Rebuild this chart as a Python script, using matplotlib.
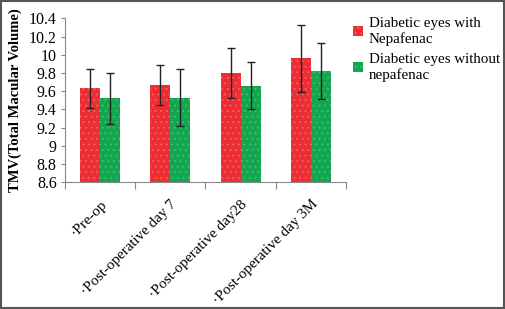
import matplotlib
matplotlib.use("Agg")
import matplotlib.pyplot as plt
import matplotlib.transforms as mtransforms
import numpy as np

# data
categories = ["\u00b7Pre-op", "\u00b7Post-operative day 7", "\u00b7Post-operative day28", "\u00b7Post-operative day 3M"]
with_nepafenac = [9.63, 9.67, 9.80, 9.96]
with_nepafenac_sd = [0.21, 0.22, 0.27, 0.37]
without_nepafenac = [9.52, 9.53, 9.66, 9.82]
without_nepafenac_sd = [0.28, 0.31, 0.26, 0.31]
series_names = ["Diabetic eyes with\nNepafenac", "Diabetic eyes without\nnepafenac"]

plt.rcParams['font.family'] = ['Liberation Serif', 'DejaVu Serif']
plt.rcParams['hatch.linewidth'] = 0.6

fig = plt.figure(figsize=(5.05, 3.09), dpi=100)
ax = fig.add_axes([0.1287, 0.41, 0.5563, 0.5308])

x = np.arange(len(categories))
w = 0.285
red = "#ec2d33"
green = "#12a64f"

ax.bar(x - w/2, with_nepafenac, w, color=red, edgecolor="#f1676b", linewidth=0,
       hatch="...", label=series_names[0], zorder=2)
ax.bar(x + w/2, without_nepafenac, w, color=green, edgecolor="#4cbb7b", linewidth=0,
       hatch="...", label=series_names[1], zorder=2)
ax.errorbar(x - w/2, with_nepafenac, yerr=with_nepafenac_sd, fmt="none", ecolor="#222222",
            elinewidth=1, capsize=3, capthick=1, zorder=3)
ax.errorbar(x + w/2, without_nepafenac, yerr=without_nepafenac_sd, fmt="none", ecolor="#222222",
            elinewidth=1, capsize=3, capthick=1, zorder=3)

ax.set_ylim(8.6, 10.4)
ax.set_yticks(np.arange(8.6, 10.41, 0.2))
ax.set_yticklabels(["8.6", "8.8", "9", "9.2", "9.4", "9.6", "9.8", "10", "10.2", "10.4"])
ax.set_xlim(-0.5, len(categories) - 0.5)

# category boundary ticks, labels at centres
ax.set_xticks(np.arange(-0.5, len(categories), 1.0))
ax.set_xticklabels([])
ax.set_xticks(x, minor=True)
ax.set_xticklabels(categories, minor=True, rotation=45, ha="right", rotation_mode="anchor",
                   fontsize=10.8)
shift = mtransforms.ScaledTranslation(-4/72, 0, fig.dpi_scale_trans)
for lbl in ax.get_xticklabels(minor=True):
    lbl.set_transform(lbl.get_transform() + shift)
ax.tick_params(axis="x", which="minor", length=0, pad=11)
ax.tick_params(axis="x", which="major", length=5, color="#888888", direction="out")
ax.tick_params(axis="y", length=3, color="#888888", labelsize=11.5, pad=3)

for s in ["top", "right"]:
    ax.spines[s].set_visible(False)
ax.spines["left"].set_color("#888888")
ax.spines["bottom"].set_color("#888888")

ax.set_ylabel("TMV(Total Macular Volume)", fontweight="bold", fontsize=10.5, labelpad=5)

fig.legend(loc="upper left", bbox_to_anchor=(0.672, 0.99), frameon=False, fontsize=10.8,
           handlelength=0.7, handleheight=0.7, handletextpad=0.35, labelspacing=0.5)

# outer frame
fig.patches.append(plt.Rectangle((0.002, 0.003), 0.996, 0.994, transform=fig.transFigure,
                                 fill=False, edgecolor="#555555", linewidth=1.5))

fig.savefig("out.png", dpi=100)
